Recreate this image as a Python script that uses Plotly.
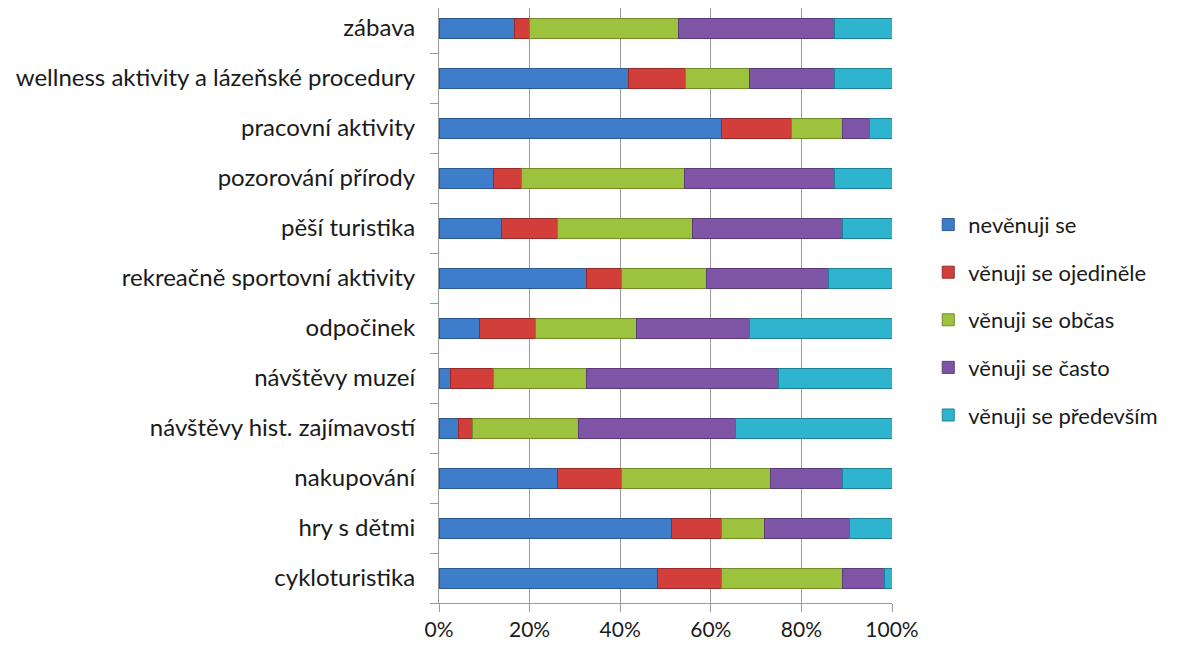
import plotly.graph_objects as go

categories = ["cykloturistika", "hry s dětmi", "nakupování", "návštěvy hist. zajímavostí",
              "návštěvy muzeí", "odpočinek", "rekreačně sportovní aktivity", "pěší turistika",
              "pozorování přírody", "pracovní aktivity", "wellness aktivity a lázeňské procedury", "zábava"]

series_names = ["nevěnuji se", "věnuji se ojediněle", "věnuji se občas", "věnuji se často", "věnuji se především"]

nevenuji = [48.3, 51.3, 26.1, 4.3, 2.6, 9.0, 32.5, 13.7, 12.0, 62.4, 41.9, 16.7]
ojedinele = [14.1, 11.1, 14.1, 3.0, 9.5, 12.4, 7.7, 12.4, 6.3, 15.5, 12.5, 3.3]
obcas = [26.6, 9.4, 32.9, 23.5, 20.4, 22.2, 18.8, 29.9, 36.0, 11.1, 14.1, 32.9]
casto = [9.4, 18.8, 15.9, 34.6, 42.4, 24.9, 27.0, 33.0, 33.0, 6.0, 18.8, 34.4]
predevsim = [1.6, 9.4, 11.0, 34.6, 25.1, 31.5, 14.0, 11.0, 12.7, 5.0, 12.7, 12.7]

values = [nevenuji, ojedinele, obcas, casto, predevsim]
colors = ["#3D7DCA", "#D23F3B", "#9DC23E", "#7F55A8", "#2FB4CF"]
edges = ["#2A5A93", "#962A28", "#6F8B2A", "#5A3B78", "#1F8198"]

fig = go.Figure()
for name, vals, c, e in zip(series_names, values, colors, edges):
    fig.add_trace(go.Bar(
        y=categories, x=vals, name=name, orientation="h",
        marker=dict(color=c, line=dict(color=e, width=1)),
        legendgroup=name,
    ))

# page has an 8px body margin; figure sized to fit the window
fig.update_layout(
    barmode="stack",
    bargap=0.6,
    width=1185, height=636,
    margin=dict(l=431, r=301, t=0, b=41, autoexpand=False),
    plot_bgcolor="white", paper_bgcolor="white",
    font=dict(family="Lato", size=22, color="#1a1a1a"),
    legend=dict(
        x=1.08, y=0.476, xanchor="left", yanchor="middle",
        traceorder="grouped", tracegroupgap=16,
        font=dict(size=22),
        itemwidth=30,
    ),
    showlegend=True,
)
fig.update_xaxes(
    range=[0, 100], tickvals=[0, 20, 40, 60, 80, 100],
    ticktext=["0%", "20%", "40%", "60%", "80%", "100%"],
    showgrid=True, gridcolor="#9a9a9a", gridwidth=1,
    showline=True, linecolor="#9a9a9a", linewidth=1,
    ticks="outside", ticklen=8, tickcolor="#9a9a9a",
    ticklabelstandoff=0,
    tickfont=dict(size=21), zeroline=False, automargin=False,
)
fig.update_yaxes(
    categoryorder="array", categoryarray=categories,
    range=[-0.5, 11.4],
    showline=True, linecolor="#9a9a9a", linewidth=1,
    ticks="outside", tickson="boundaries", ticklen=8, tickcolor="#9a9a9a",
    ticklabelstandoff=18, automargin=False,
    tickfont=dict(size=24), showgrid=False,
)

fig.write_html("out.html")
